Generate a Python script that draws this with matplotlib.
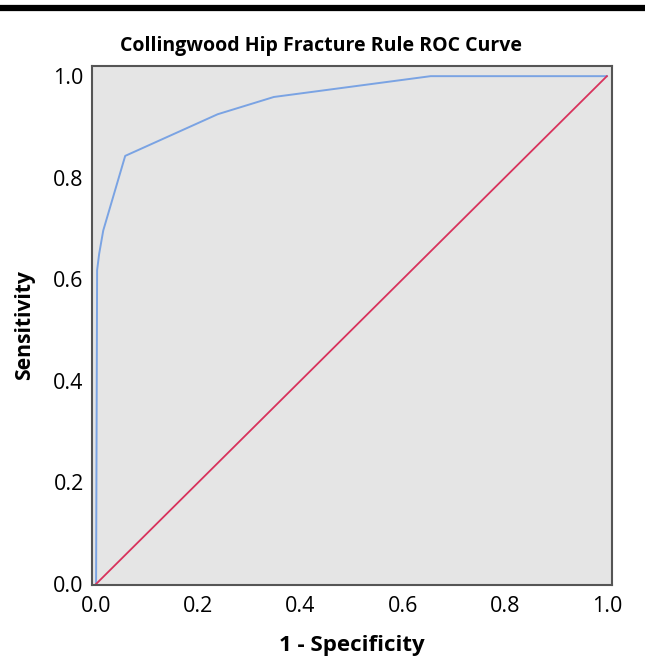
import matplotlib.pyplot as plt
from matplotlib.lines import Line2D

# ROC curve points
fpr = [0.0, 0.002, 0.006, 0.014, 0.057, 0.238, 0.348, 0.655, 1.0]
tpr = [0.0, 0.618, 0.65, 0.696, 0.843, 0.925, 0.959, 1.0, 1.0]
ref_x = [0.0, 1.0]
ref_y = [0.0, 1.0]
ticks = [0.0, 0.2, 0.4, 0.6, 0.8, 1.0]
tick_labels = ["0.0", "0.2", "0.4", "0.6", "0.8", "1.0"]

plt.rcParams['font.family'] = ['Open Sans', 'DejaVu Sans']

fig = plt.figure(figsize=(6.45, 6.56), dpi=100)
ax = fig.add_axes([92/645, 1-585/656, 520/645, 519/656])
ax.set_facecolor("#e5e5e5")

ax.plot(fpr, tpr, color="#7aa3e3", lw=1.4)
ax.plot(ref_x, ref_y, color="#d8325c", lw=1.3)

ax.set_xlim(-0.008, 1.010)
ax.set_ylim(-0.002, 1.020)
ax.set_xticks(ticks)
ax.set_xticklabels(tick_labels)
ax.set_yticks(ticks)
ax.set_yticklabels(tick_labels)
ax.tick_params(axis="both", length=0, labelsize=15.5)
ax.tick_params(axis="x", pad=8)
ax.tick_params(axis="y", pad=6)
for s in ax.spines.values():
    s.set_color("#555555")
    s.set_linewidth(1.5)

ax.set_title("Collingwood Hip Fracture Rule ROC Curve", fontsize=14,
             fontweight="bold", pad=11, x=0.44)
ax.set_xlabel("1 - Specificity", fontsize=16, fontweight="bold", labelpad=13)
ax.set_ylabel("Sensitivity", fontsize=15.2, fontweight="bold", labelpad=13)

# thick black rule at the top of the picture
fig.add_artist(Line2D([0, 1], [1-8/656, 1-8/656], color="black", lw=4.5,
                      transform=fig.transFigure))

fig.savefig("out.png", dpi=100)
